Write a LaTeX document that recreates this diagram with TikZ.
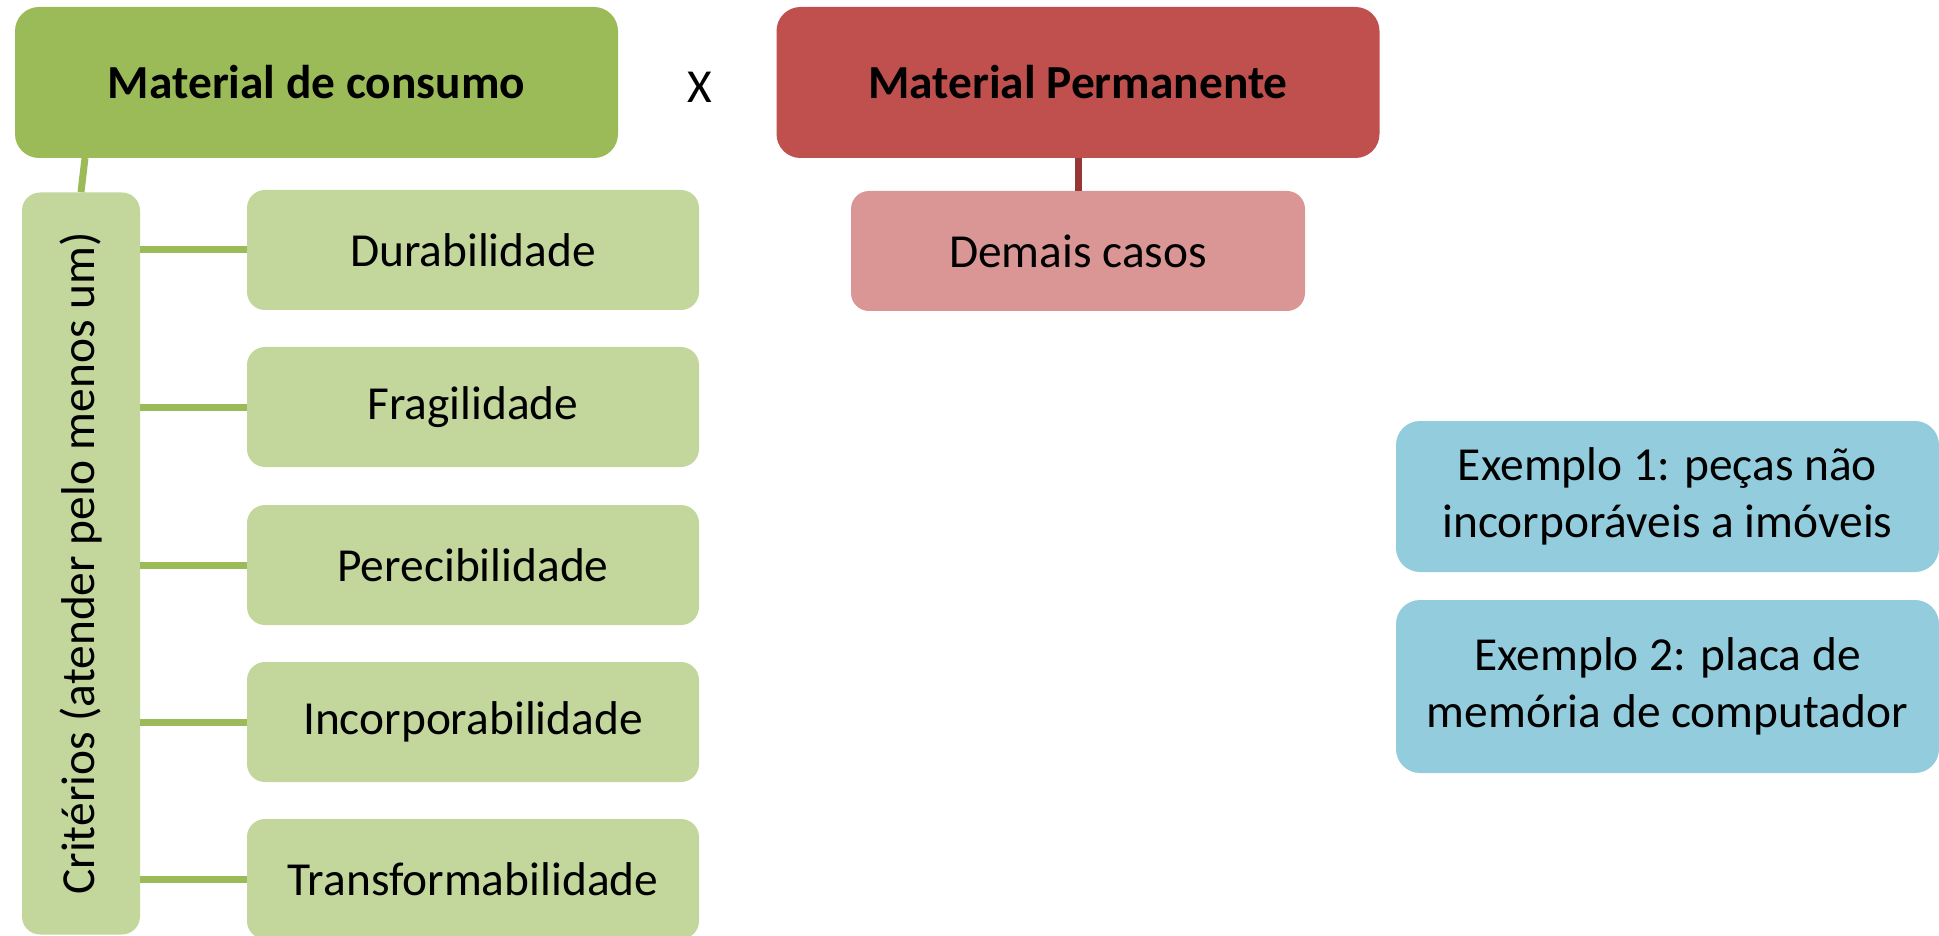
\documentclass[tikz,border=0pt]{standalone}
\usepackage{fontspec}
\setmainfont{Carlito}
\usetikzlibrary{positioning}

\definecolor{gdark}{HTML}{9BBB59}
\definecolor{glight}{HTML}{C3D69B}
\definecolor{rdark}{HTML}{C0504D}
\definecolor{rlight}{HTML}{D99694}
\definecolor{rline}{HTML}{953735}
\definecolor{blight}{HTML}{93CDDD}

\begin{document}
\begin{tikzpicture}[x=0.5pt,y=-0.5pt,
    box/.style={inner sep=0pt, align=center, font=\fontsize{23.7}{28.5}\selectfont},
    topbox/.style={box, rounded corners=12pt, minimum width=301.5pt, minimum height=75.5pt, font=\fontsize{23.7}{28.5}\selectfont\bfseries},
    critbox/.style={box, rounded corners=9pt, fill=glight, minimum width=226pt, minimum height=60pt},
    exbox/.style={box, rounded corners=12pt, fill=blight, minimum width=271.5pt},
    link/.style={line width=3.5pt}]
        \useasboundingbox (0,0) rectangle (1939,936);

        % Material de consumo x Material Permanente
        \node[topbox, fill=gdark] (consumo) at (316.5,82.5) {Material de consumo};
        \node[box] (versus) at (700,87) {X};
        \node[topbox, fill=rdark] (permanente) at (1078,82.5) {Material Permanente};

        % Permanente side
        \node[box, rounded corners=9pt, fill=rlight, minimum width=227pt, minimum height=60pt] (demais) at (1078,251) {Demais casos};
        \draw[link, rline] (permanente) -- (demais);

        % Vertical criteria bar (reads bottom to top)
        \node[box, rounded corners=9pt, fill=glight, rotate=90, minimum width=371pt, minimum height=59pt] (criterios) at (81,563.5) {Critérios (atender pelo menos um)};
        \coordinate (cbase) at (85,158);
        \draw[link, gdark] (cbase) -- (criterios.east);

        % The five criteria
        \node[critbox] (dur) at (473,250) {Durabilidade};
        \node[critbox] (frag) at (473,407) {Fragilidade};
        \node[critbox] (perec) at (473,565) {Perecibilidade};
        \node[critbox] (incorp) at (473,722) {Incorporabilidade};
        \node[critbox] (transf) at (473,879) {Transformabilidade};
        \foreach \c in {dur,frag,perec,incorp,transf}
            \draw[link, gdark] (criterios.south |- \c) -- (\c.west);

        % Examples
        \node[exbox, minimum height=75.5pt] (ex1) at (1667.5,496.5) {Exemplo 1: peças não\\incorporáveis a imóveis};
        \node[exbox, minimum height=86.5pt] (ex2) at (1667.5,686.5) {Exemplo 2: placa de\\memória de computador};
    \end{tikzpicture}
\end{document}
